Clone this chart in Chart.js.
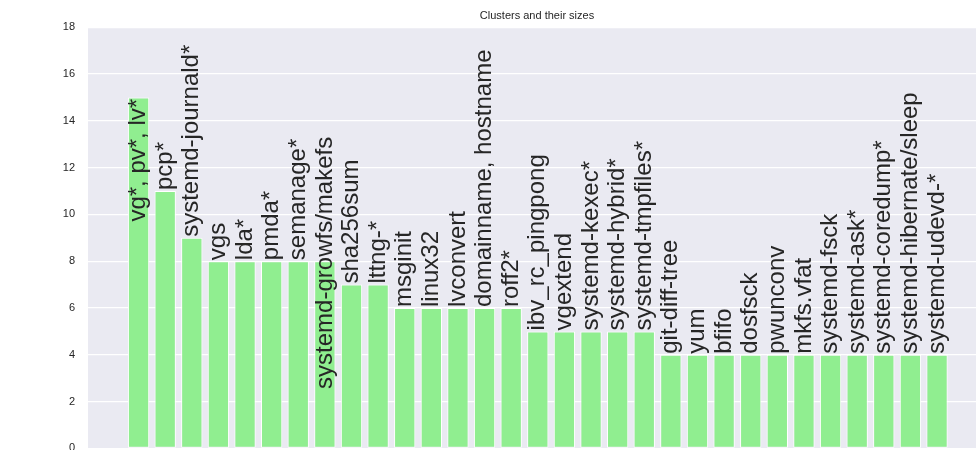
<!DOCTYPE html>
<html>
<head>
<meta charset="utf-8">
<script src="https://cdn.jsdelivr.net/npm/chart.js@4/dist/chart.umd.min.js"></script>
<style>
  html, body { margin: 0; padding: 0; background: #fff; overflow: hidden; }
  canvas { display: block; }
</style>
</head>
<body>
<canvas id="clusterChart" width="1074" height="468"></canvas>
<script>
// Cluster names and how many members each has
const categories = [
    'vg*, pv*, lv*', 'pcp*', 'systemd-journald*', 'vgs', 'lda*', 'pmda*', 'semanage*',
    'systemd-growfs/makefs', 'sha256sum', 'lttng-*', 'msginit', 'linux32', 'lvconvert',
    'domainname, hostname', 'roff2*', 'ibv_rc_pingpong', 'vgextend', 'systemd-kexec*',
    'systemd-hybrid*', 'systemd-tmpfiles*', 'git-diff-tree', 'yum', 'bfifo', 'dosfsck',
    'pwunconv', 'mkfs.vfat', 'systemd-fsck', 'systemd-ask*', 'systemd-coredump*',
    'systemd-hibernate/sleep', 'systemd-udevd-*'
];
const clusterSizes = [15, 11, 9, 8, 8, 8, 8, 8, 7, 7, 6, 6, 6, 6, 6, 5, 5, 5, 5, 5,
    4, 4, 4, 4, 4, 4, 4, 4, 4, 4, 4];
// value where each rotated label starts (two long ones sit lower in the picture)
const labelStart = [9.65, 11, 9, 8, 8, 8, 8, 2.5, 7, 7, 6, 6, 6, 6, 6, 5, 5, 5, 5, 5,
    4, 4, 4, 4, 4, 4, 4, 4, 4, 4, 4];
const yTicks = [0, 2, 4, 6, 8, 10, 12, 14, 16, 18];

const TEXT = '#262626';
const FONT = '"Liberation Sans", Arial, sans-serif';

const plotBackground = {
    id: 'plotBackground',
    beforeDraw(chart) {
        const { ctx, chartArea: a } = chart;
        ctx.save();
        ctx.fillStyle = '#fff';
        ctx.fillRect(0, 0, chart.width, chart.height);
        ctx.fillStyle = '#EAEAF2';
        ctx.fillRect(a.left, a.top, a.right - a.left, a.bottom - a.top);
        ctx.restore();
    }
};

const barLabels = {
    id: 'barLabels',
    afterDatasetsDraw(chart) {
        const { ctx } = chart;
        const meta = chart.getDatasetMeta(0);
        const yScale = chart.scales.y;
        ctx.save();
        ctx.fillStyle = TEXT;
        ctx.font = '24px ' + FONT;
        ctx.textAlign = 'left';
        ctx.textBaseline = 'middle';
        meta.data.forEach((bar, i) => {
            ctx.save();
            ctx.translate(bar.x, yScale.getPixelForValue(labelStart[i]));
            ctx.rotate(-Math.PI / 2);
            ctx.fillText(categories[i], 1, 0);
            ctx.restore();
        });
        ctx.restore();
    }
};

const ctx = document.getElementById('clusterChart').getContext('2d');
new Chart(ctx, {
    type: 'bar',
    data: {
        datasets: [{
            data: clusterSizes.map((v, i) => ({ x: i, y: v })),
            backgroundColor: '#90EE90',
            borderColor: '#ffffff',
            borderWidth: 1,
            borderSkipped: false,
            categoryPercentage: 0.8,
            barPercentage: 1.0
        }]
    },
    options: {
        responsive: false,
        animation: false,
        layout: { padding: { left: 0, right: 0, top: 0, bottom: 5 } },
        plugins: {
            legend: { display: false },
            tooltip: { enabled: false },
            title: {
                display: true,
                text: 'Clusters and their sizes',
                color: TEXT,
                font: { family: FONT, size: 11, weight: 'normal' },
                padding: { top: 9, bottom: 5 }
            }
        },
        scales: {
            x: {
                type: 'linear',
                display: false,
                offset: false,
                grace: 0,
                min: -1.9,
                max: 31.84
            },
            y: {
                min: 0,
                max: 18,
                afterFit(scale) { scale.width = 88; },
                afterBuildTicks(scale) { scale.ticks = yTicks.map(v => ({ value: v })); },
                border: { display: false },
                grid: { color: '#ffffff', lineWidth: 1.3, drawTicks: false },
                ticks: {
                    color: TEXT,
                    padding: 13,
                    font: { family: FONT, size: 11 }
                }
            },
            // empty right margin (the figure continues past the window)
            yRight: {
                type: 'linear',
                position: 'right',
                afterFit(scale) { scale.width = 88; },
                border: { display: false },
                grid: { display: false },
                ticks: { display: false }
            }
        }
    },
    plugins: [plotBackground, barLabels]
});
</script>
</body>
</html>
